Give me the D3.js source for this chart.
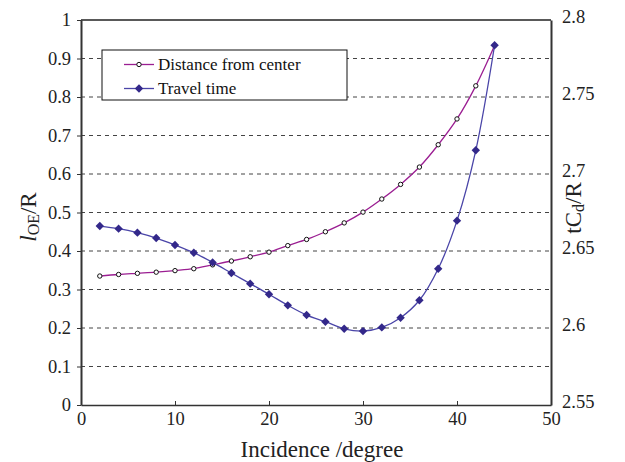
<!DOCTYPE html>
<html><head><meta charset="utf-8">
<script src="https://cdn.jsdelivr.net/npm/d3@7"></script>
<style>body{margin:0;background:#fff;} svg{display:block;}</style>
</head><body><svg id="c" width="625" height="462" font-family="Liberation Serif"></svg>
<script>
const angles = [2,4,6,8,10,12,14,16,18,20,22,24,26,28,30,32,34,36,38,40,42,44];
const distance = [0.335,0.339,0.342,0.345,0.349,0.354,0.364,0.374,0.385,0.397,0.414,0.430,0.450,0.473,0.501,0.535,0.573,0.618,0.676,0.743,0.829,0.934];
const travel = [2.6662,2.6645,2.6619,2.6584,2.6539,2.6489,2.6426,2.6357,2.6288,2.6219,2.6147,2.6084,2.6041,2.5995,2.598,2.6004,2.6067,2.618,2.6385,2.6697,2.7154,2.7836];
const xTicks = [0,10,20,30,40,50];
const leftTicks = [0,0.1,0.2,0.3,0.4,0.5,0.6,0.7,0.8,0.9,1];
const rightTicks = [2.55,2.6,2.65,2.7,2.75,2.8];
const seriesNames = ["Distance from center","Travel time"];

const FONT = "Liberation Serif";
const svg = d3.select("#c");
const L=81, R=551, T=20, B=405;
const x = d3.scaleLinear().domain([0,50]).range([L,R]);
const yL = d3.scaleLinear().domain([0,1]).range([B,T]);
const yR = d3.scaleLinear().domain([2.55,2.8]).range([B,T]);
const purple="#9b1e92", blueLine="#4a45a8", blueMark="#33288a";

// grid
svg.append("g").selectAll("line").data(leftTicks.filter(d=>d>0&&d<1)).join("line")
  .attr("x1",L).attr("x2",R).attr("y1",d=>yL(d)).attr("y2",d=>yL(d))
  .attr("stroke","#444").attr("stroke-width",1).attr("stroke-dasharray","4,4");

// axes
const gx = svg.append("g").attr("transform",`translate(0,${B})`)
  .call(d3.axisBottom(x).tickValues(xTicks).tickFormat(d3.format("d")).tickSizeInner(-4).tickSizeOuter(0).tickPadding(9));
const gl = svg.append("g").attr("transform",`translate(${L},0)`)
  .call(d3.axisLeft(yL).tickValues(leftTicks).tickFormat(d=>d3.format("")(d)).tickSizeInner(4).tickSizeOuter(0).tickPadding(6));
const gr = svg.append("g").attr("transform",`translate(${R},0)`)
  .call(d3.axisRight(yR).tickValues(rightTicks).tickFormat(d=>d3.format("")(d)).tickSize(0).tickPadding(11));
[gx,gl,gr].forEach(g=>{
  g.attr("font-family",FONT);
  g.selectAll("text").attr("font-family",FONT).attr("font-size",18.5).attr("fill","#222");
  g.select(".domain").attr("stroke","#333").attr("stroke-width",2);
  g.selectAll(".tick line").attr("stroke","#333");
});
gx.select(".domain").attr("stroke-width",1.5);
gr.selectAll("text").attr("dy","0.15em");
gl.selectAll("text").attr("dy","0.3em");
gx.selectAll("text").attr("dy","0.6em");
// top border
svg.append("line").attr("x1",L).attr("x2",R).attr("y1",T).attr("y2",T).attr("stroke","#222").attr("stroke-width",1.5);

// lines
const curve = d3.curveCatmullRom.alpha(0.5);
const lineD = d3.line().x((d,i)=>x(angles[i])).y(d=>yL(d)).curve(curve);
const lineT = d3.line().x((d,i)=>x(angles[i])).y(d=>yR(d)).curve(curve);
svg.append("path").attr("d",lineD(distance)).attr("fill","none").attr("stroke",purple).attr("stroke-width",1.3);
svg.append("path").attr("d",lineT(travel)).attr("fill","none").attr("stroke",blueLine).attr("stroke-width",1.3);

const diamond = "M0,-4.2L4.2,0L0,4.2L-4.2,0Z";
svg.append("g").selectAll("circle").data(distance).join("circle")
  .attr("cx",(d,i)=>x(angles[i])).attr("cy",d=>yL(d)).attr("r",2.2)
  .attr("fill","#fff").attr("stroke","#111").attr("stroke-width",1);
svg.append("g").selectAll("path").data(travel).join("path")
  .attr("transform",(d,i)=>`translate(${x(angles[i])},${yR(d)})`).attr("d",diamond).attr("fill",blueMark);

// legend
const lg = svg.append("g");
lg.append("rect").attr("x",102).attr("y",50).attr("width",245).attr("height",50)
  .attr("fill","#fff").attr("stroke","#111").attr("stroke-width",1);
const rows=[{y:64.5,c:purple,m:"c"},{y:88.5,c:blueLine,m:"d"}];
rows.forEach((r,i)=>{
  lg.append("line").attr("x1",124).attr("x2",154).attr("y1",r.y).attr("y2",r.y).attr("stroke",r.c).attr("stroke-width",1.3);
  if(r.m==="c") lg.append("circle").attr("cx",139).attr("cy",r.y).attr("r",2.2).attr("fill","#fff").attr("stroke","#111");
  else lg.append("path").attr("d",diamond).attr("transform",`translate(139,${r.y})`).attr("fill",blueMark);
  lg.append("text").attr("x",158).attr("y",r.y).attr("dy","0.33em").attr("font-family",FONT).attr("font-size",17).attr("fill","#111").text(seriesNames[i]);
});

// titles
svg.append("text").attr("x",322).attr("y",457).attr("text-anchor","middle").attr("font-family",FONT).attr("font-size",23).attr("fill","#222").text("Incidence /degree");
const tl = svg.append("text").attr("transform","translate(36,217) rotate(-90)").attr("text-anchor","middle").attr("font-family",FONT).attr("font-size",23).attr("fill","#222");
tl.append("tspan").attr("font-style","italic").text("l");
tl.append("tspan").attr("font-size",16).attr("dy",3).text("OE");
tl.append("tspan").attr("dy",-3).text("/R");
const tr = svg.append("text").attr("transform","translate(581,208) rotate(-90)").attr("text-anchor","middle").attr("font-family",FONT).attr("font-size",23).attr("fill","#222");
tr.append("tspan").text("tC");
tr.append("tspan").attr("font-size",16).attr("dy",3).text("d");
tr.append("tspan").attr("dy",-3).text("/R");
</script></body></html>
